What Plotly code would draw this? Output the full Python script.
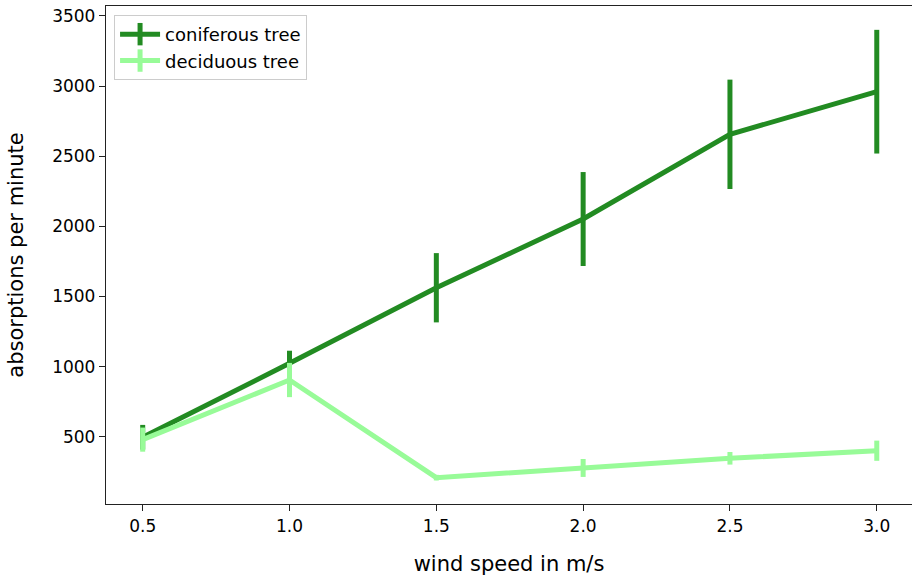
import plotly.graph_objects as go

wind_speed = [0.5, 1.0, 1.5, 2.0, 2.5, 3.0]
coniferous = [496, 1023, 1562, 2052, 2656, 2960]
coniferous_err = [88, 90, 247, 335, 390, 441]
deciduous = [479, 904, 208, 277, 346, 400]
deciduous_err = [86, 122, 20, 64, 45, 72]
y_ticks = [500, 1000, 1500, 2000, 2500, 3000, 3500]
x_ticks = [0.5, 1.0, 1.5, 2.0, 2.5, 3.0]
series_names = ["coniferous tree", "deciduous tree"]
colors = ["#228B22", "#98FB98"]

fig = go.Figure()
for name, vals, errs, col in [
    (series_names[0], coniferous, coniferous_err, colors[0]),
    (series_names[1], deciduous, deciduous_err, colors[1]),
]:
    fig.add_trace(go.Scatter(
        x=wind_speed, y=vals, mode="lines", name=name, showlegend=False,
        line=dict(color=col, width=5),
        error_y=dict(type="data", array=errs, visible=True,
                     color=col, thickness=5, width=0),
    ))

# legend entries (line with vertical tick, like an errorbar handle)
for name, col in zip(series_names, colors):
    fig.add_trace(go.Scatter(
        x=[None], y=[None], mode="lines+markers", name=name,
        line=dict(color=col, width=5),
        marker=dict(symbol="line-ns", size=18, color=col,
                    line=dict(color=col, width=5)),
    ))

font = "DejaVu Sans"
fig.update_layout(
    width=912, height=580,
    margin=dict(l=106, r=0, t=6, b=76),
    paper_bgcolor="white", plot_bgcolor="white",
    font=dict(family=font, size=17, color="black"),
    showlegend=True,
    legend=dict(x=0.01, y=0.982, xanchor="left", yanchor="top",
                bgcolor="rgba(255,255,255,0.8)", bordercolor="#cccccc",
                borderwidth=1, font=dict(size=18, family=font),
                tracegroupgap=0, itemwidth=40),
    xaxis=dict(range=[0.375, 3.120], tickvals=x_ticks,
               ticktext=["0.5", "1.0", "1.5", "2.0", "2.5", "3.0"],
               showgrid=False, zeroline=False, showline=True,
               linecolor="#222222", linewidth=1.3, mirror=True,
               ticks="outside", ticklen=6, tickcolor="#222222",
               automargin=False,
               title=dict(text="wind speed in m/s", font=dict(size=21), standoff=21)),
    yaxis=dict(range=[20, 3571], tickvals=y_ticks,
               showgrid=False, zeroline=False, showline=True,
               linecolor="#222222", linewidth=1.3,
               ticks="outside", ticklen=6, tickcolor="#222222",
               automargin=False,
               title=dict(text="absorptions per minute", font=dict(size=21), standoff=22)),
)

fig.write_html("out.html", config={"displayModeBar": False},
               post_script="document.body.style.margin='0';document.body.style.overflow='hidden';")
